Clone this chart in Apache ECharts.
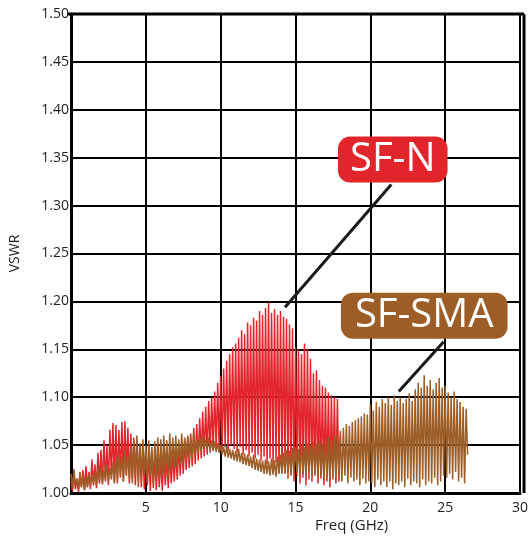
<!DOCTYPE html>
<html>
<head>
<meta charset="utf-8">
<script src="https://cdn.jsdelivr.net/npm/echarts@6/dist/echarts.min.js"></script>
<style>
html,body{margin:0;padding:0;background:#fff;}
#chart{width:531px;height:541px;}
</style>
</head>
<body>
<div id="chart"></div>
<script>
// Sampling grid (GHz)
var freqStart = 0.0;
var freqStep = 0.1;

// SF-N VSWR samples (0 - 18 GHz)
var sfN = [
1.012,1.002,1.018,1.004,1.015,1.001,1.020,1.006,1.024,1.003,
1.028,1.006,1.022,1.004,1.035,1.008,1.030,1.005,1.042,1.010,
1.045,1.009,1.055,1.012,1.050,1.008,1.066,1.014,1.073,1.012,
1.071,1.010,1.066,1.016,1.074,1.012,1.075,1.018,1.068,1.010,
1.062,1.014,1.058,1.008,1.055,1.012,1.050,1.006,1.048,1.004,
1.046,1.008,1.042,1.002,1.045,1.005,1.040,1.003,1.038,1.006,
1.036,1.002,1.040,1.008,1.038,1.005,1.042,1.010,1.040,1.012,
1.044,1.014,1.048,1.018,1.050,1.020,1.055,1.024,1.058,1.026,
1.062,1.028,1.068,1.030,1.072,1.034,1.078,1.036,1.085,1.038,
1.090,1.040,1.096,1.042,1.100,1.044,1.106,1.046,1.115,1.045,
1.122,1.046,1.130,1.048,1.138,1.044,1.145,1.050,1.152,1.046,
1.156,1.042,1.162,1.048,1.170,1.040,1.166,1.045,1.178,1.038,
1.175,1.042,1.183,1.036,1.180,1.040,1.190,1.034,1.186,1.038,
1.193,1.030,1.199,1.036,1.188,1.028,1.192,1.032,1.186,1.024,
1.190,1.020,1.184,1.026,1.182,1.015,1.176,1.020,1.172,1.012,
1.152,1.018,1.150,1.010,1.145,1.016,1.156,1.008,1.150,1.014,
1.140,1.012,1.125,1.018,1.128,1.010,1.118,1.015,1.112,1.008,
1.110,1.012,1.105,1.006,1.102,1.014,1.100,1.010,1.098,1.012,
1.060
];

// SF-SMA VSWR samples (0 - 26.5 GHz)
var sfSMA = [
1.020,1.005,1.025,1.008,1.015,1.004,1.022,1.006,1.018,1.003,
1.016,1.006,1.020,1.008,1.018,1.010,1.022,1.008,1.025,1.012,
1.028,1.010,1.024,1.014,1.030,1.012,1.026,1.016,1.032,1.010,
1.036,1.014,1.042,1.018,1.038,1.012,1.045,1.020,1.040,1.015,
1.048,1.010,1.055,1.018,1.060,1.006,1.052,1.014,1.056,1.020,
1.050,1.012,1.055,1.018,1.048,1.010,1.054,1.016,1.058,1.014,
1.056,1.018,1.060,1.020,1.055,1.016,1.062,1.024,1.058,1.026,
1.060,1.028,1.056,1.030,1.062,1.032,1.058,1.034,1.060,1.036,
1.058,1.038,1.062,1.040,1.056,1.042,1.058,1.044,1.060,1.046,
1.056,1.046,1.058,1.045,1.055,1.044,1.054,1.043,1.052,1.042,
1.050,1.040,1.048,1.038,1.049,1.037,1.046,1.036,1.045,1.034,
1.044,1.033,1.046,1.032,1.042,1.030,1.041,1.029,1.040,1.028,
1.038,1.026,1.040,1.024,1.036,1.023,1.035,1.022,1.034,1.020,
1.035,1.020,1.033,1.018,1.036,1.019,1.034,1.017,1.038,1.020,
1.040,1.021,1.042,1.020,1.045,1.022,1.044,1.018,1.047,1.020,
1.048,1.022,1.046,1.018,1.050,1.020,1.048,1.016,1.052,1.022,
1.050,1.018,1.054,1.020,1.052,1.016,1.055,1.018,1.050,1.014,
1.056,1.016,1.058,1.012,1.055,1.018,1.060,1.014,1.062,1.016,
1.065,1.012,1.068,1.018,1.072,1.010,1.070,1.016,1.074,1.012,
1.076,1.014,1.078,1.008,1.080,1.015,1.083,1.010,1.082,1.012,
1.092,1.010,1.086,1.006,1.095,1.014,1.090,1.008,1.098,1.012,
1.094,1.006,1.100,1.012,1.092,1.004,1.102,1.010,1.096,1.008,
1.100,1.012,1.094,1.006,1.098,1.015,1.104,1.008,1.096,1.012,
1.108,1.010,1.115,1.006,1.110,1.014,1.123,1.008,1.112,1.012,
1.118,1.010,1.108,1.016,1.115,1.008,1.120,1.012,1.110,1.018,
1.112,1.016,1.105,1.020,1.100,1.014,1.106,1.022,1.098,1.012,
1.095,1.016,1.090,1.010,1.088,1.040
];

// Annotation labels and leader line anchors (data space)
var labelNames = ['SF-N', 'SF-SMA'];
var labelAt = [[21.5, 1.348], [23.6, 1.185]];
var leaderN = [[14.3, 1.194], [21.4, 1.322]];
var leaderSMA = [[21.9, 1.106], [24.9, 1.158]];

var xTicks = [0, 5, 10, 15, 20, 25, 30];
var yMin = 1.00, yMax = 1.50, yStep = 0.05;

function toPairs(arr) {
  return arr.map(function (v, i) { return [+(freqStart + i * freqStep).toFixed(2), v]; });
}

var RED = '#e2242b';
var BROWN = '#9c5d26';
var FONT = '"Open Sans", "DejaVu Sans", sans-serif';

var chart = echarts.init(document.getElementById('chart'), null, {renderer: 'canvas'});
chart.setOption({
  animation: false,
  backgroundColor: '#fff',
  grid: {left: 67, right: 7, top: 14, bottom: 48, containLabel: false},
  xAxis: {
    type: 'value', min: 0, max: 30, interval: 5,
    axisLine: {show: true, onZero: false, lineStyle: {color: '#000', width: 3}},
    axisTick: {show: false},
    splitLine: {show: true, lineStyle: {color: '#000', width: 2}},
    axisLabel: {
      fontFamily: FONT, fontSize: 14, color: '#1e1e1e', margin: 8,
      formatter: function (v) { return v === 0 ? '' : String(v); }
    }
  },
  yAxis: {
    type: 'value', min: yMin, max: yMax, interval: yStep,
    name: 'VSWR', nameLocation: 'middle', nameRotate: 90, nameGap: 49,
    nameTextStyle: {fontFamily: FONT, fontSize: 14, color: '#1e1e1e'},
    axisLine: {show: true, onZero: false, lineStyle: {color: '#000', width: 3}},
    axisTick: {show: false},
    splitLine: {show: true, lineStyle: {color: '#000', width: 2}},
    axisLabel: {
      fontFamily: FONT, fontSize: 14, color: '#1e1e1e', margin: 2,
      formatter: function (v) { return v.toFixed(2); }
    }
  },
  graphic: [{
    type: 'text', left: 315, top: 518,
    style: {text: 'Freq (GHz)', font: '15px ' + FONT, fill: '#1e1e1e'}
  }, {
    type: 'line', shape: {x1: 524, y1: 14, x2: 524, y2: 493},
    style: {stroke: '#000', lineWidth: 3}
  }, {
    type: 'line', shape: {x1: 67, y1: 14, x2: 524, y2: 14},
    style: {stroke: '#000', lineWidth: 3}
  }],
  series: [{
    name: 'SF-N', type: 'line', showSymbol: false, symbol: 'none',
    data: toPairs(sfN),
    lineStyle: {color: RED, width: 1.5},
    z: 3
  }, {
    name: 'SF-SMA', type: 'line', showSymbol: false, symbol: 'none',
    data: toPairs(sfSMA),
    lineStyle: {color: BROWN, width: 1.5},
    z: 4
  }, {
    name: 'annot', type: 'line', data: [], z: 10,
    markLine: {
      silent: true, symbol: ['none', 'none'],
      lineStyle: {color: '#1a1a1a', width: 3, type: 'solid'},
      label: {show: false},
      data: [
        [{coord: leaderN[0]}, {coord: leaderN[1]}],
        [{coord: leaderSMA[0]}, {coord: leaderSMA[1]}]
      ]
    },
    markPoint: {
      silent: true, symbol: 'rect', symbolSize: 0,
      data: [{
        coord: labelAt[0], name: labelNames[0],
        label: {
          show: true, position: 'inside', formatter: labelNames[0],
          fontFamily: FONT, fontSize: 40, color: '#fff',
          backgroundColor: RED, borderRadius: 12, padding: [0, 12, 0, 12],
          lineHeight: 46
        }
      }, {
        coord: labelAt[1], name: labelNames[1],
        label: {
          show: true, position: 'inside', formatter: labelNames[1],
          fontFamily: FONT, fontSize: 40, color: '#fff',
          backgroundColor: BROWN, borderRadius: 12, padding: [0, 14, 0, 14],
          lineHeight: 46
        }
      }]
    }
  }]
});
</script>
</body>
</html>
